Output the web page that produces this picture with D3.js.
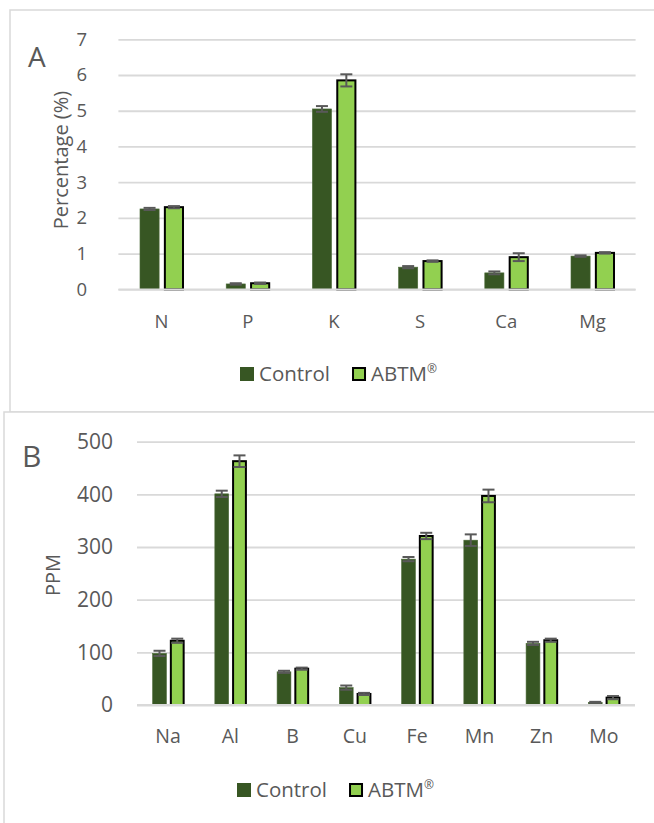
<!DOCTYPE html>
<html><head><meta charset="utf-8">
<script src="https://cdn.jsdelivr.net/npm/d3@7"></script>
<style>
html,body{margin:0;padding:0;background:#fff;}
svg{display:block;font-family:"Open Sans",sans-serif;}
</style></head>
<body><svg id="chart" width="654" height="823"></svg>
<script>
// ---- Panel A data ----
const catsA = ["N","P","K","S","Ca","Mg"];
const controlA = [2.25,0.15,5.05,0.62,0.46,0.93];
const controlErrA = [0.03,0.02,0.08,0.03,0.04,0.02];
const abtmA = [2.30,0.17,5.85,0.79,0.90,1.02];
const abtmErrA = [0.03,0.02,0.17,0.02,0.11,0.02];
const ticksA = [0,1,2,3,4,5,6,7];
// ---- Panel B data ----
const catsB = ["Na","Al","B","Cu","Fe","Mn","Zn","Mo"];
const controlB = [98,401,63,33,277,313,117,5];
const controlErrB = [5,6,2,4,4,11,3,1];
const abtmB = [122,463,69,21,321,397,123,14];
const abtmErrB = [4,11,2,2,6,12,3,3];
const ticksB = [0,100,200,300,400,500];
const seriesNames = ["Control","ABTM"];
const seriesSup = ["","®"];

const COL_CTRL = "#375623", COL_ABTM = "#92d050", TXT = "#595959", GRID = "#d9d9d9";
const svg = d3.select("#chart");

// panel borders
svg.append("rect").attr("x",10).attr("y",10).attr("width",700).attr("height",402)
  .attr("fill","none").attr("stroke",GRID).attr("stroke-width",1.5);
svg.append("rect").attr("x",4).attr("y",412).attr("width",700).attr("height",450)
  .attr("fill","#fff").attr("stroke",GRID).attr("stroke-width",1.5);

function panel(o){
  const g = svg.append("g");
  const x = d3.scaleBand().domain(o.cats).range([o.x0,o.x1]);
  const y = d3.scaleLinear().domain([0,o.max]).range([o.y0,o.y1]);
  const bw = x.bandwidth()*0.222, gap = x.bandwidth()*0.055;
  // gridlines
  const yAxis = d3.axisLeft(y).tickValues(o.ticks).tickFormat(d3.format("d"))
    .tickSize(-(o.x1-o.x0)).tickPadding(o.x0-o.tickRight);
  const ya = g.append("g").attr("transform",`translate(${o.x0},0)`).call(yAxis);
  ya.select(".domain").remove();
  ya.selectAll(".tick line").attr("stroke",GRID).attr("stroke-width",1.8);
  ya.selectAll(".tick text").attr("fill",TXT).attr("font-size",o.tickFont).attr("font-family","Open Sans");
  // bars
  const data = o.cats.map((c,i)=>({c,ctrl:o.ctrl[i],ce:o.ctrlErr[i],ab:o.ab[i],ae:o.abErr[i]}));
  const cx = d=> x(d.c)+x.bandwidth()/2;
  g.selectAll(".bc").data(data).enter().append("rect")
    .attr("x",d=>cx(d)-gap/2-bw).attr("width",bw)
    .attr("y",d=>y(d.ctrl)).attr("height",d=>y(0)-y(d.ctrl))
    .attr("fill",COL_CTRL).attr("stroke","#4d6b3a").attr("stroke-width",0.6);
  g.selectAll(".ba").data(data).enter().append("rect")
    .attr("x",d=>cx(d)+gap/2+1).attr("width",bw-1)
    .attr("y",d=>y(d.ab)).attr("height",d=>y(0)-y(d.ab))
    .attr("fill",COL_ABTM).attr("stroke","#000").attr("stroke-width",2);
  // x axis line
  g.append("line").attr("x1",o.x0).attr("x2",o.x1).attr("y1",y(0)).attr("y2",y(0))
    .attr("stroke",GRID).attr("stroke-width",1.8);
  // error bars
  const cap = 12;
  function err(xc,v,e){
    const eg = g.append("g").attr("stroke","#595959").attr("stroke-width",2);
    eg.append("line").attr("x1",xc).attr("x2",xc).attr("y1",y(v-e)).attr("y2",y(v+e));
    eg.append("line").attr("x1",xc-cap/2).attr("x2",xc+cap/2).attr("y1",y(v-e)).attr("y2",y(v-e));
    eg.append("line").attr("x1",xc-cap/2).attr("x2",xc+cap/2).attr("y1",y(v+e)).attr("y2",y(v+e));
  }
  data.forEach(d=>{
    err(cx(d)-gap/2-bw/2,d.ctrl,d.ce);
    err(cx(d)+gap/2+bw/2+0.5,d.ab,d.ae);
  });
  // category labels
  g.selectAll(".xl").data(o.cats).enter().append("text")
    .attr("x",c=>x(c)+x.bandwidth()/2).attr("y",o.xlabY)
    .attr("text-anchor","middle").attr("fill",TXT).attr("font-size",o.xFont).text(c=>c);
  // y title
  g.append("text").attr("transform",`translate(${o.titleX},${o.titleY}) rotate(-90)`)
    .attr("text-anchor","middle").attr("fill",TXT).attr("font-size",o.titleFont).text(o.title);
  // panel letter
  g.append("text").attr("x",o.letterX).attr("y",o.letterY).attr("fill",TXT)
    .attr("font-size",o.letterFont).text(o.letter);
  // legend
  const lg = g.append("g");
  lg.append("rect").attr("x",o.legX).attr("y",o.legY-14).attr("width",14).attr("height",14).attr("fill",COL_CTRL);
  const t1 = lg.append("text").attr("x",o.legX+19).attr("y",o.legY).attr("fill",TXT).attr("font-size",20.5).text(seriesNames[0]);
  const w1 = t1.node().getComputedTextLength();
  const sx = o.legX+19+w1+22;
  lg.append("rect").attr("x",sx+1).attr("y",o.legY-13).attr("width",12).attr("height",12)
    .attr("fill",COL_ABTM).attr("stroke","#000").attr("stroke-width",2);
  const t2 = lg.append("text").attr("x",sx+19).attr("y",o.legY).attr("fill",TXT).attr("font-size",20.5);
  t2.append("tspan").text(seriesNames[1]);
  t2.append("tspan").attr("font-size",12).attr("dy",-8).text(seriesSup[1]);
}

panel({cats:catsA,ctrl:controlA,ctrlErr:controlErrA,ab:abtmA,abErr:abtmErrA,ticks:ticksA,max:7,
  x0:118.4,x1:635.6,y0:289.3,y1:39.3,tickRight:87,tickFont:18.5,xFont:18.5,xlabY:328,
  title:"Percentage (%)",titleX:68,titleY:160,titleFont:20,letter:"A",letterX:28,letterY:67,letterFont:28,
  legX:240,legY:381});
panel({cats:catsB,ctrl:controlB,ctrlErr:controlErrB,ab:abtmB,abErr:abtmErrB,ticks:ticksB,max:500,
  x0:137,x1:635,y0:705,y1:441.7,tickRight:113,tickFont:21,xFont:19.5,xlabY:743,
  title:"PPM",titleX:60,titleY:575,titleFont:20,letter:"B",letterX:22,letterY:467,letterFont:30,
  legX:237,legY:797});
</script></body></html>
